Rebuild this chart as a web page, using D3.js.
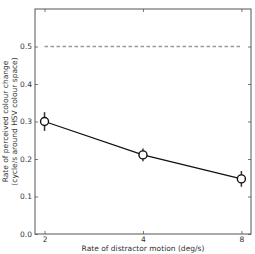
<!DOCTYPE html>
<html>
<head>
<meta charset="utf-8">
<script src="https://cdn.jsdelivr.net/npm/d3@7"></script>
<style>
body { margin: 0; background: #fff; }
text { font-family: "DejaVu Sans", sans-serif; }
</style>
</head>
<body>
<script>
const speeds = [2, 4, 8];
const rates = [0.30, 0.211, 0.147];
const errors = [0.025, 0.017, 0.021];
const chance = 0.5;
const yTicks = [0.0, 0.1, 0.2, 0.3, 0.4, 0.5];

const margin = { top: 9, right: 4, bottom: 20, left: 35 };
const width = 255 - margin.left - margin.right;
const height = 254 - margin.top - margin.bottom;

const svg = d3.select("body")
    .append("svg")
    .attr("width", 255)
    .attr("height", 254)
    .append("g")
    .attr("transform", `translate(${margin.left},${margin.top})`);

const x = d3.scaleLog().base(2)
    .domain([1.87, 8.56])
    .range([0, width]);

const y = d3.scaleLinear()
    .domain([0, 0.6])
    .range([height, 0]);

const axisColor = "#555";

// frame
svg.append("rect")
    .attr("width", width)
    .attr("height", height)
    .attr("fill", "none")
    .attr("stroke", axisColor)
    .attr("stroke-width", 1);

// ticks (inward, on all sides)
const tickLen = 3;
const axBottom = svg.append("g")
    .attr("transform", `translate(0,${height})`)
    .call(d3.axisBottom(x).tickValues(speeds).tickFormat(d3.format("d")).tickSizeInner(-tickLen).tickSizeOuter(0).tickPadding(2.5));
const axTop = svg.append("g")
    .call(d3.axisTop(x).tickValues(speeds).tickFormat("").tickSizeInner(-tickLen).tickSizeOuter(0));
const axLeft = svg.append("g")
    .call(d3.axisLeft(y).tickValues(yTicks).tickFormat(d3.format(".1f")).tickSizeInner(-tickLen).tickSizeOuter(0).tickPadding(3));
const axRight = svg.append("g")
    .attr("transform", `translate(${width},0)`)
    .call(d3.axisRight(y).tickValues(yTicks).tickFormat("").tickSizeInner(-tickLen).tickSizeOuter(0));

[axBottom, axTop, axLeft, axRight].forEach(g => {
    g.select(".domain").remove();
    g.selectAll("line").attr("stroke", axisColor).attr("stroke-width", 0.8);
    g.selectAll("text").attr("fill", "#333").style("font-size", "7.5px");
});

// chance line
svg.append("line")
    .attr("x1", x(speeds[0]))
    .attr("x2", x(speeds[speeds.length - 1]))
    .attr("y1", y(chance))
    .attr("y2", y(chance))
    .attr("stroke", "#999")
    .attr("stroke-width", 1.3)
    .attr("stroke-dasharray", "3.5,2.5");

const data = speeds.map((s, i) => ({ s: s, r: rates[i], e: errors[i] }));

// data line
svg.append("path")
    .datum(data)
    .attr("fill", "none")
    .attr("stroke", "#111")
    .attr("stroke-width", 1.3)
    .attr("d", d3.line().x(d => x(d.s)).y(d => y(d.r)));

// error bars
svg.append("g")
    .selectAll("line")
    .data(data)
    .enter().append("line")
    .attr("x1", d => x(d.s))
    .attr("x2", d => x(d.s))
    .attr("y1", d => y(d.r - d.e))
    .attr("y2", d => y(d.r + d.e))
    .attr("stroke", "#333")
    .attr("stroke-width", 1.5);

// markers
svg.append("g")
    .selectAll("circle")
    .data(data)
    .enter().append("circle")
    .attr("cx", d => x(d.s))
    .attr("cy", d => y(d.r))
    .attr("r", 4)
    .attr("fill", "#fff")
    .attr("stroke", "#111")
    .attr("stroke-width", 1.4);

// axis labels
svg.append("text")
    .attr("x", width / 2)
    .attr("y", height + 17)
    .attr("text-anchor", "middle")
    .attr("fill", "#333")
    .style("font-size", "7.5px")
    .text("Rate of distractor motion (deg/s)");

const ylab = svg.append("text")
    .attr("transform", `translate(${-27},${height / 2}) rotate(-90)`)
    .attr("text-anchor", "middle")
    .attr("fill", "#333")
    .style("font-size", "7.5px");
ylab.append("tspan").attr("x", 0).attr("dy", 0).text("Rate of perceived colour change");
ylab.append("tspan").attr("x", 0).attr("dy", "9").text("(cycle/s around HSV colour space)");
</script>
</body>
</html>
